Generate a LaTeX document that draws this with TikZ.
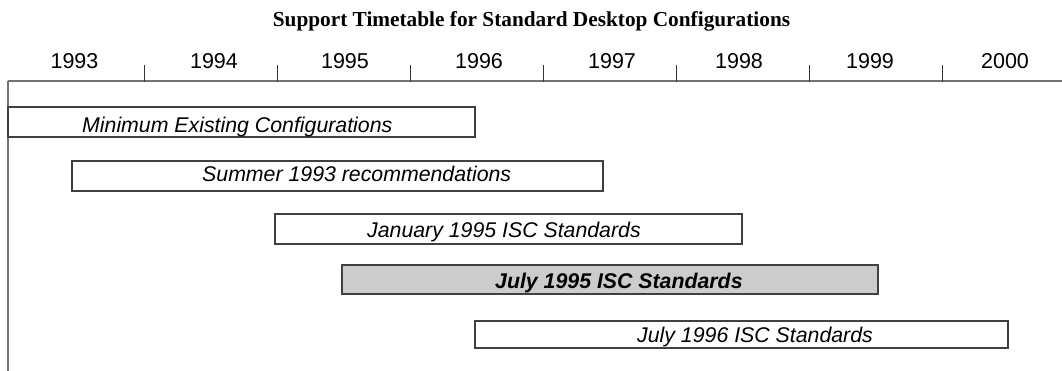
\documentclass[tikz,border=0pt]{standalone}
\usepackage{fontspec}
\setmainfont{Liberation Sans}
\newfontfamily\titlefont{Liberation Serif}
\begin{document}
\begin{tikzpicture}[x=1pt,y=-1pt,
  axisline/.style={draw=black!55,line width=1.3pt},
  tickline/.style={draw=black!80,line width=1pt},
  bar/.style={draw=black!75,line width=1.2pt,fill=white},
  hibar/.style={bar,fill=black!20},
  yearlbl/.style={inner sep=0pt,anchor=base,font=\fontsize{21.5}{24}\selectfont},
  barlbl/.style={inner sep=0pt,anchor=base west,font=\fontsize{21.3}{24}\selectfont\itshape},
  titlelbl/.style={inner sep=0pt,anchor=base,font=\titlefont\bfseries\fontsize{21.3}{24}\selectfont}]
\useasboundingbox (0,0) rectangle (1062,371);
% title
\node[titlelbl] (title) at (531.5,27) {Support Timetable for Standard Desktop Configurations};
% axis
\coordinate (axL) at (8,81);
\coordinate (axR) at (1062,81);
\coordinate (axB) at (8,371);
\draw[axisline] (axL) -- (axR);
\draw[axisline] (axL) -- (axB);
\foreach \x in {144,277,410,543,676,809,942}
  \draw[tickline] (\x,65) -- (\x,82);
% years
\node[yearlbl] (y1993) at (74.5,68.5) {1993};
\node[yearlbl] (y1994) at (214,68.5) {1994};
\node[yearlbl] (y1995) at (345,68.5) {1995};
\node[yearlbl] (y1996) at (479,68.5) {1996};
\node[yearlbl] (y1997) at (612,68.5) {1997};
\node[yearlbl] (y1998) at (739,68.5) {1998};
\node[yearlbl] (y1999) at (870,68.5) {1999};
\node[yearlbl] (y2000) at (1005,68.5) {2000};
% bars
\draw[bar] (8,107) rectangle (475,137);
\draw[bar] (72,161) rectangle (603,191);
\draw[bar] (275,214) rectangle (742,244);
\draw[hibar] (342,265) rectangle (878,294);
\draw[bar] (475,321) rectangle (1008,348);
% bar labels
\node[barlbl] (b1) at (82,132.3) {Minimum Existing Configurations};
\node[barlbl] (b2) at (202,181.7) {Summer 1993 recommendations};
\node[barlbl] (b3) at (367,237.7) {January 1995 ISC Standards};
\node[barlbl,font=\fontsize{21.3}{24}\selectfont\bfseries\itshape] (b4) at (495,288) {July 1995 ISC Standards};
\node[barlbl] (b5) at (637,342) {July 1996 ISC Standards};
\end{tikzpicture}
\end{document}
